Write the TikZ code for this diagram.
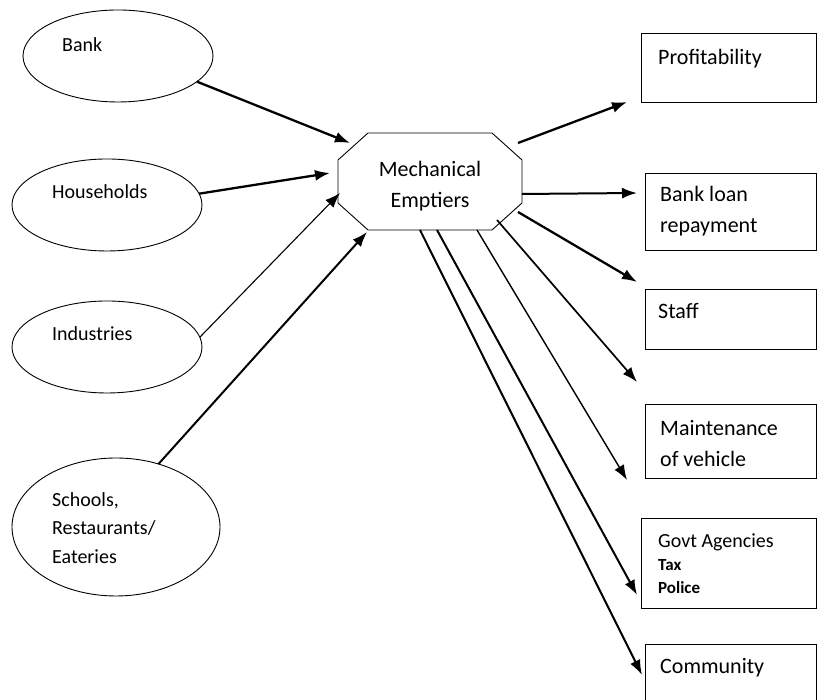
\documentclass[tikz,border=0pt]{standalone}
\usepackage{fontspec}
\setmainfont{Carlito}
\usetikzlibrary{arrows.meta,shapes.geometric,positioning}

\tikzset{
  party/.style = {draw, ellipse, line width=0.9pt, outer sep=0pt,
                  minimum width=190pt, minimum height=92pt},
  outbox/.style = {draw, rectangle, line width=0.9pt, outer sep=0pt,
                   anchor=north west, minimum width=171pt},
  intext/.style = {anchor=base west, align=left, inner sep=0pt,
                   font=\fontsize{20pt}{28.3pt}\selectfont},
  boxtext/.style = {anchor=base west, align=left, inner sep=0pt,
                    font=\fontsize{22pt}{31pt}\selectfont},
  heavy/.style = {->, line width=2.3pt},
  medium/.style = {->, line width=2pt},
  light/.style = {->, line width=1.1pt},
}

\begin{document}
\begin{tikzpicture}[
            x = 1pt, y = 1pt,
            > = {Latex[length=15pt,width=11pt]}, % arrow head style
        ]
	\useasboundingbox (0,0) rectangle (817,700);

	% who pays in
	\node[party] (bank) at (118,644) {};
	\node[party] (house) at (107,495) {};
	\node[party] (indus) at (107,353) {};
	\node[party, minimum width=208pt, minimum height=138pt] (school) at (116,173) {};

	% text sits on its last line
	\node[intext] (banktxt) at ([xshift=-56pt, yshift=4pt]bank.center) {Bank};
	\node[intext] (housetxt) at ([xshift=-55pt, yshift=6.7pt]house.center) {Households};
	\node[intext] (industxt) at ([xshift=-55pt, yshift=6.3pt]indus.center) {Industries};
	\node[intext] (schooltxt) at ([xshift=-64pt, yshift=-36.3pt]school.center) {Schools,\\Restaurants/\\Eateries};

	% the business (octagon drawn round a plain box)
	\node[minimum width=184pt, minimum height=97pt, outer sep=0pt] (mech) at (430,518.5) {};
	\draw[line width=0.9pt] ([xshift=30pt]mech.north west) -- ([xshift=-30pt]mech.north east)
	  -- ([yshift=-27pt]mech.north east) -- ([yshift=27pt]mech.south east)
	  -- ([xshift=-30pt]mech.south east) -- ([xshift=30pt]mech.south west)
	  -- ([yshift=27pt]mech.south west) -- ([yshift=-27pt]mech.north west) -- cycle;
	\node[align=center, inner sep=0pt, font=\fontsize{22pt}{30.7pt}\selectfont] (mechtxt)
	  at ([yshift=-4.5pt]mech.center) {Mechanical\\Emptiers};

	% where the money goes
	\node[outbox, minimum width=175pt, minimum height=69pt] (profit) at (641,667) {};
	\node[outbox, minimum height=77pt] (loan) at (645,527) {};
	\node[outbox, minimum height=60pt] (staff) at (645,411) {};
	\node[outbox, minimum height=74pt] (maint) at (645,296) {};
	\node[outbox, minimum width=175pt, minimum height=90pt] (govt) at (641,182) {};
	\node[outbox, minimum height=76pt] (comm) at (645,56) {};

	\node[boxtext] (profittxt) at ([xshift=17pt, yshift=-31.3pt]profit.north west) {Profitability};
	\node[boxtext] (loantxt) at ([xshift=15pt, yshift=-59.3pt]loan.north west) {Bank loan\\repayment};
	\node[boxtext] (stafftxt) at ([xshift=13pt, yshift=-29.3pt]staff.north west) {Staff};
	\node[boxtext] (mainttxt) at ([xshift=15pt, yshift=-62.7pt]maint.north west) {Maintenance\\of vehicle};
	\node[boxtext, font=\fontsize{20pt}{23pt}\selectfont] (govttxt) at ([xshift=17pt, yshift=-75.3pt]govt.north west)
	  {Govt Agencies\\{\fontsize{17pt}{23pt}\selectfont\bfseries Tax}\\{\fontsize{17pt}{23pt}\selectfont\bfseries Police}};
	\node[boxtext] (commtxt) at ([xshift=15pt, yshift=-29.3pt]comm.north west) {Community};

	\coordinate (free) at ([xshift=-8pt, yshift=-33pt]staff.south west);

	\draw[heavy] (bank.-18) -- ([xshift=12pt, yshift=38.5pt]mech.west);
	\draw[heavy] (house.7) -- ([xshift=-8pt, yshift=8.5pt]mech.west);
	\draw[light] (indus.6) -- ([xshift=2pt, yshift=-11.5pt]mech.west);
	\draw[medium] (school.56) -- ([xshift=29pt, yshift=-2pt]mech.south west);

	\draw[heavy] ([xshift=-4pt, yshift=38.5pt]mech.east) -- ([xshift=-14pt]profit.south west);
	\draw[medium] ([yshift=-12.5pt]mech.east) -- ([xshift=-8pt, yshift=18.5pt]loan.west);
	\draw[heavy] ([xshift=-4pt, yshift=-30.5pt]mech.east) -- ([xshift=-8pt, yshift=7pt]staff.north west);
	\draw[medium, line width=1.7pt] ([xshift=-25pt, yshift=-38.5pt]mech.east) -- (free);
	\draw[light, line width=1.4pt] ([xshift=47pt]mech.south) -- ([xshift=-18pt, yshift=-2pt]maint.south west);
	\draw[medium] ([xshift=7pt]mech.south) -- ([xshift=-4pt, yshift=13pt]govt.south west);
	\draw[medium] ([xshift=-10pt]mech.south) -- ([xshift=-3pt, yshift=-31pt]comm.north west);
\end{tikzpicture}
\end{document}
